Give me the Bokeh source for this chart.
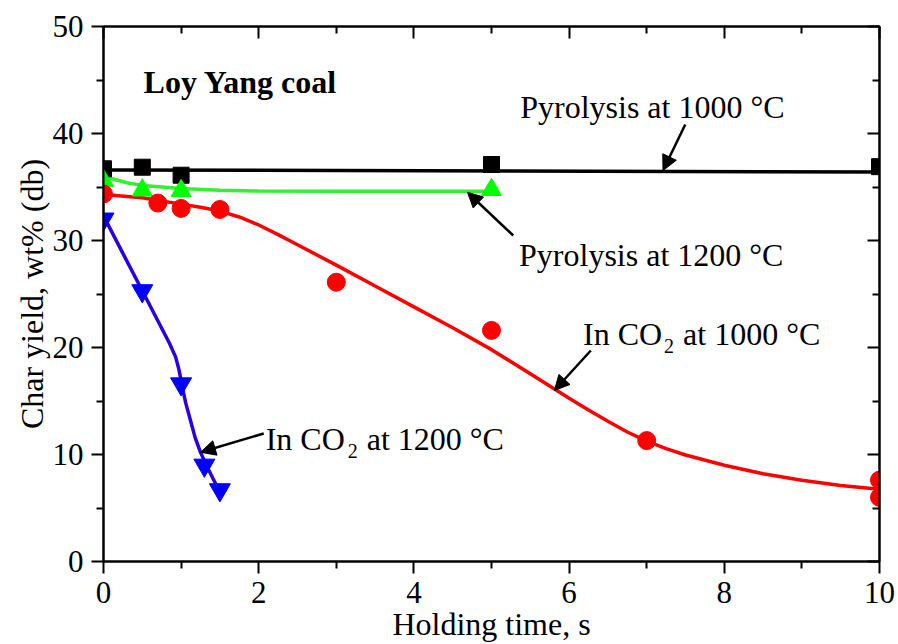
from bokeh.plotting import figure
from bokeh.models import (LinearAxis, Range1d, Label, Arrow, NormalHead, FixedTicker)
from bokeh.embed import file_html
from bokeh.resources import INLINE

FONT = "Liberation Serif"

# ---- measured data ----
pyr1000_x = [0, 0.5, 1, 5, 10]
pyr1000_y = [36.7, 36.85, 36.1, 37.1, 36.9]
pyr1200_x = [0, 0.5, 1, 5]
pyr1200_y = [35.6, 34.7, 34.65, 34.75]
co2_1000_x = [0, 0.7, 1, 1.5, 3, 5, 7, 10, 10]
co2_1000_y = [34.35, 33.5, 33.0, 32.9, 26.1, 21.6, 11.3, 7.6, 6.0]
co2_1200_x = [0, 0.5, 1, 1.3, 1.5]
co2_1200_y = [32.0, 25.3, 16.6, 9.0, 6.7]

# ---- fitted curves ----
fit_pyr1000_x = [0, 10]
fit_pyr1000_y = [36.6, 36.4]
fit_pyr1200_x = [0, 0.1, 0.3, 0.5, 0.75, 1, 1.5, 2, 3, 5]
fit_pyr1200_y = [36.0, 35.8, 35.4, 35.15, 35.0, 34.85, 34.7, 34.62, 34.6, 34.6]
fit_co2_1000_x = [0, 0.5, 1, 1.25, 1.5, 1.75, 2, 2.25, 2.5, 3, 3.5, 4, 4.5, 5, 5.5, 6, 6.25, 6.5,
                  6.75, 7, 7.25, 7.5, 8, 8.5, 9, 9.5, 10]
fit_co2_1000_y = [34.3, 34.0, 33.4, 33.1, 32.75, 32.2, 31.45, 30.55, 29.6, 27.7, 25.75, 23.8, 21.85,
                  19.8, 17.55, 15.25, 14.15, 13.1, 12.1, 11.25, 10.55, 9.95, 9.0, 8.2, 7.6, 7.1, 6.75]
fit_co2_1200_x = [0, 0.25, 0.5, 0.65, 0.75, 0.85, 0.93, 0.97, 1.0, 1.03, 1.06, 1.12, 1.18, 1.25,
                  1.32, 1.38, 1.45, 1.53]
fit_co2_1200_y = [32.3, 28.8, 25.3, 23.2, 21.8, 20.4, 19.1, 18.0, 16.9, 15.8, 14.8, 13.2, 11.6,
                  10.2, 9.1, 8.2, 7.2, 6.35]

x_ticks = [0, 2, 4, 6, 8, 10]
x_minor = [1, 3, 5, 7, 9]
y_ticks = [0, 10, 20, 30, 40, 50]
y_minor = [5, 15, 25, 35, 45]

p = figure(width=898, height=644, x_range=Range1d(0, 10), y_range=Range1d(0, 50),
           output_backend="svg", toolbar_location=None,
           min_border_left=103, min_border_right=19, min_border_top=26, min_border_bottom=83)
p.grid.visible = False
p.outline_line_color = "black"
p.outline_line_width = 2
p.background_fill_color = "white"
p.border_fill_color = "white"

def style_axis(ax, ticks, minor, inside=False):
    ax.ticker = FixedTicker(ticks=ticks, minor_ticks=minor)
    ax.axis_line_width = 2
    ax.axis_line_color = "black"
    ax.major_tick_line_width = 2
    ax.minor_tick_line_width = 2
    ax.major_tick_line_color = "black"
    ax.minor_tick_line_color = "black"
    if inside:
        ax.major_tick_in = 12
        ax.major_tick_out = 0
        ax.minor_tick_in = 7
        ax.minor_tick_out = 0
        ax.major_label_text_font_size = "0px"
        ax.major_label_text_alpha = 0
        ax.major_label_standoff = 0
    else:
        ax.major_tick_in = 0
        ax.major_tick_out = 12
        ax.minor_tick_in = 0
        ax.minor_tick_out = 7
        ax.major_label_text_font = FONT
        ax.major_label_text_font_size = "31px"
        ax.major_label_text_color = "black"
        ax.axis_label_text_font = FONT
        ax.axis_label_text_font_size = "32px"
        ax.axis_label_text_font_style = "normal"
        ax.axis_label_text_color = "black"

style_axis(p.xaxis[0], x_ticks, x_minor)
style_axis(p.yaxis[0], y_ticks, y_minor)
p.xaxis[0].axis_label = "Holding time, s"
p.yaxis[0].axis_label = "Char yield, wt% (db)"
p.xaxis[0].major_label_standoff = 8
p.xaxis[0].axis_label_standoff = 0
p.yaxis[0].major_label_standoff = 8
p.yaxis[0].axis_label_standoff = 0

top = LinearAxis()
style_axis(top, x_ticks, x_minor, inside=True)
p.add_layout(top, "above")
right = LinearAxis()
style_axis(right, y_ticks, y_minor, inside=True)
p.add_layout(right, "right")

# fitted lines
p.line(fit_pyr1000_x, fit_pyr1000_y, line_color="black", line_width=3.5)
p.line(fit_pyr1200_x, fit_pyr1200_y, line_color="#33f033", line_width=3.5)
p.line(fit_co2_1000_x, fit_co2_1000_y, line_color="#ff0000", line_width=3.5)
p.line(fit_co2_1200_x, fit_co2_1200_y, line_color="#2a00e0", line_width=3.5)

# markers
p.scatter(pyr1000_x, pyr1000_y, marker="square", size=16, fill_color="black", line_color="black")
p.scatter(pyr1200_x, pyr1200_y, marker="triangle", size=20, fill_color="#00ff00", line_color="#00ff00")
p.scatter(co2_1000_x, co2_1000_y, marker="circle", size=18, fill_color="#ff0000", line_color="#ff0000")
p.scatter(co2_1200_x, co2_1200_y, marker="inverted_triangle", size=21, fill_color="#0000ff", line_color="#0000ff")

def lab(x, y, text, size="32px", style="normal", xo=0, yo=0):
    p.add_layout(Label(x=x, y=y, text=text, text_font=FONT, text_font_size=size,
                       text_font_style=style, text_color="black", text_baseline="alphabetic",
                       x_offset=xo, y_offset=yo))

lab(0.516, 44.77, "Loy Yang coal", style="bold")
lab(5.37, 42.52, "Pyrolysis at 1000 °C")
lab(5.355, 28.6, "Pyrolysis at 1200 °C")
lab(6.18, 21.28, "In CO")
lab(6.18, 21.28, "2", size="20px", xo=81, yo=-12)
lab(6.18, 21.28, "at 1000 °C", xo=100)
lab(2.09, 11.47, "In CO")
lab(2.09, 11.47, "2", size="20px", xo=82, yo=-12)
lab(2.09, 11.47, "at 1200 °C", xo=101)

# arrows
arrows = [
    (7.497, 40.84, 7.21, 36.54),
    (5.28, 30.47, 4.69, 34.51),
    (6.28, 19.72, 5.81, 15.98),
    (2.065, 11.96, 1.25, 10.21),
]
for xs, ys, xe, ye in arrows:
    p.add_layout(Arrow(x_start=xs, y_start=ys, x_end=xe, y_end=ye, line_color="black", line_width=2.5,
                       end=NormalHead(size=15, fill_color="black", line_color="black", line_width=1)))

open("out.html", "w").write(file_html(p, INLINE))
